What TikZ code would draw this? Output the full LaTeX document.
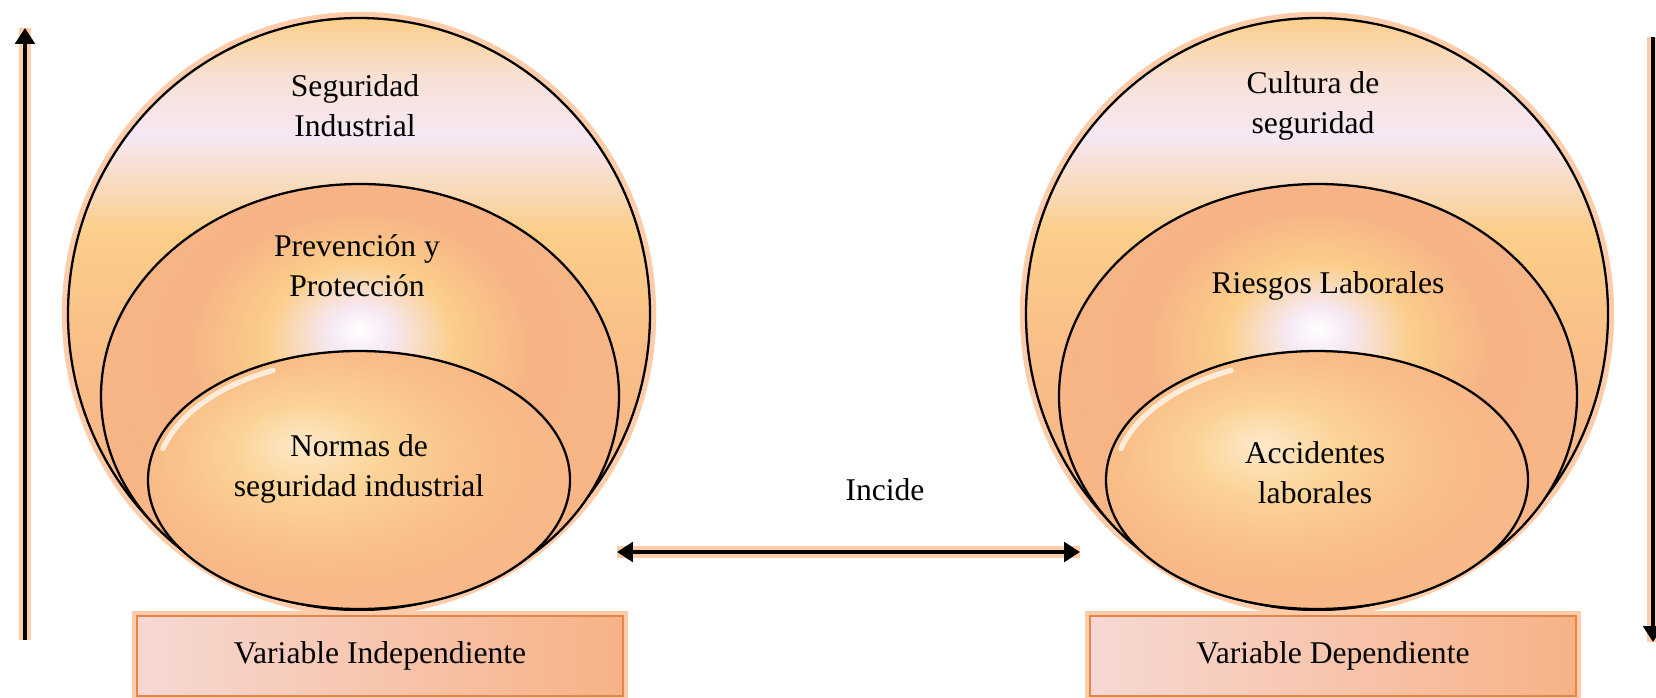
\documentclass[tikz,border=0pt]{standalone}
\usepackage{fontspec}
\setmainfont{Liberation Serif}
\usetikzlibrary{arrows.meta}
\definecolor{c1}{RGB}{246,232,244}
\definecolor{c2}{RGB}{251,206,138}
\definecolor{c3}{RGB}{247,178,134}
\definecolor{c4}{RGB}{255,204,170}
\definecolor{c5}{RGB}{226,134,76}
% the middle 50bp of each shading is fitted to the path
\pgfdeclareverticalshading{outer}{100bp}{color(0bp)=(c3); color(25bp)=(c3); color(46bp)=(c3!60!c2); color(57bp)=(c2); color(65bp)=(c1); color(70bp)=(c1!70!c2); color(75bp)=(c2); color(100bp)=(c2)}
\pgfdeclareradialshading{middle}{\pgfpoint{0bp}{8bp}}{color(0bp)=(white); color(3bp)=(c1); color(9bp)=(c2); color(17bp)=(c3); color(25bp)=(c3!85!c2); color(50bp)=(c3!85!c2)}
\pgfdeclareradialshading{inner}{\pgfpoint{-7bp}{7bp}}{color(0bp)=(c2!45!white); color(9bp)=(c2!90!white); color(19bp)=(c2!45!c3); color(25bp)=(c3!80!c2); color(50bp)=(c3!80!c2)}
\tikzset{
    glow/.style={draw=c4, line width=7pt},
    rim/.style={draw=black, line width=1.3pt},
    gleam/.style={white, line width=3pt, line cap=round, opacity=.7},
    label text/.style={align=center, font={\fontsize{18}{22.8}\selectfont}},
    var box/.style={rectangle, draw=c5, line width=1.2pt, left color=c1!70!c3, middle color=c2!60!c3, right color=c3,
        minimum width=9.72cm, minimum height=1.6cm, inner sep=0pt,
        preaction={draw=c4, line width=6pt}},
    arrow line/.style={line width=2.3pt, preaction={draw=c4, line width=7pt, -}},
    >={Triangle[length=9pt,width=11pt]}
}
\newcommand{\bubbles}[1][]{
    \begin{scope}[#1]
    \draw[glow] (0,314) ellipse (291 and 296);
    \shade[shading=outer, rim] (0,314) ellipse (291 and 296);
    \shade[shading=middle, rim] (1,396) ellipse (259 and 212);
    \shade[shading=inner, rim] (0,480) ellipse (211 and 129);
    \draw[gleam] (0,480) ++(195:203 and 121) arc (195:245:203 and 121);
    \end{scope}
}

\begin{document}
\begin{tikzpicture}[x=0.02cm, y=-0.02cm, every node/.style={label text}]
    \useasboundingbox (0,0) rectangle (1656,697);

    % the two sets of bubbles
    \bubbles[shift={(359,0)}]
    \bubbles[shift={(1317,0)}]

    \node (segInd) at (355,106) {Seguridad\\Industrial};
    \node (prevProt) at (357,266) {Prevención y\\Protección};
    \node (normas) at (359,469) {Normas de\\seguridad industrial};
    \node (cultura) at (1313,106) {Cultura de\\seguridad};
    \node (riesgos) at (1328,286) {Riesgos Laborales};
    \node (accid) at (1315,473) {Accidentes\\laborales};

    \node[var box] (varInd) at (380,656) {Variable Independiente};
    \node[var box] (varDep) at (1333,656) {Variable Dependiente};

    \node (incide) at (885,490) {Incide};

    % arrows
    \coordinate (upA) at (25,640);
    \coordinate (upB) at (25,28);
    \coordinate (downA) at (1653,37);
    \coordinate (downB) at (1653,642);
    \coordinate (incL) at (617,552);
    \coordinate (incR) at (1080,552);
    \draw[arrow line, ->] (upA) -- (upB);
    \draw[arrow line, ->] (downA) -- (downB);
    \draw[arrow line, <->] (incL) -- (incR);
\end{tikzpicture}
\end{document}
